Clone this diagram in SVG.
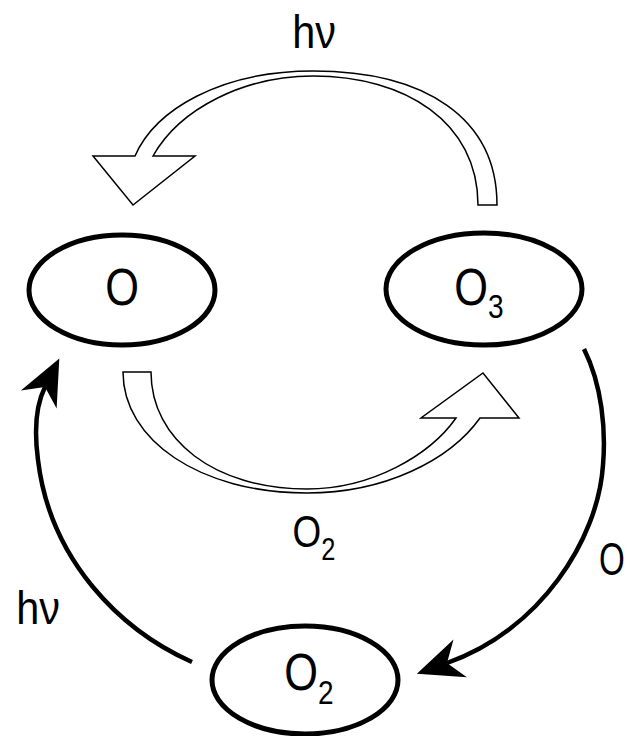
<svg xmlns="http://www.w3.org/2000/svg" width="627" height="736" viewBox="0 0 627 736">
<style>
.node{fill:#fff;stroke:#000;stroke-width:5}
.lbl{font-family:"Liberation Sans",Arial,sans-serif;fill:#000}
.hollow{fill:#fff;stroke:#000;stroke-width:1.5;stroke-linejoin:miter}
.solid{fill:none;stroke:#000;stroke-width:4.5}
</style>
<defs>
<marker id="head" viewBox="-50 -25 55 50" markerWidth="55" markerHeight="50" refX="-32" refY="0" orient="auto" markerUnits="userSpaceOnUse">
<path d="M0,0 L-46,-20 L-32,0 L-46,20 Z" fill="#000"/>
</marker>
</defs>
<rect width="627" height="736" fill="#fff"/>
<g id="connectors">
<path class="hollow" d="M497,205 C497,118 425,71 313,71 C220,71 155,110 135,156 L93,156 L133,205 L195,156 L153,156 C180,108 245,76 313,76 C405,76 478,122 478,205 Z"/>
<path class="hollow" d="M123,372 C123,440 200,493 307,493 C385,493 450,460 480,418 L519,418 L483,373 L421,418 L456,418 C430,455 372,489 307,489 C215,489 151,440 151,372 Z"/>
<path class="solid" marker-end="url(#head)" d="M584,349 C602,385 606,430 603,465 C598,540 540,630 447,663"/>
<path class="solid" marker-end="url(#head)" d="M192,662 C120,630 50,560 38,460 C34,430 36,405 45,387"/>
<text class="lbl" transform="translate(314,48) scale(0.9,1)" font-size="46" text-anchor="middle">hν</text>
<text class="lbl" transform="translate(38,624) scale(0.9,1)" font-size="46" text-anchor="middle">hν</text>
<text class="lbl" transform="translate(314,547) scale(0.82,1)" font-size="45" text-anchor="middle">O<tspan font-size="31" dy="13">2</tspan></text>
<text class="lbl" transform="translate(599,575) scale(0.72,1)" font-size="46">O</text>
</g>
<g id="node-O">
<ellipse class="node" cx="122" cy="290" rx="93" ry="55"/>
<text class="lbl" transform="translate(122,305) scale(0.85,1)" font-size="51" text-anchor="middle">O</text>
</g>
<g id="node-O3">
<ellipse class="node" cx="484" cy="289" rx="98" ry="56"/>
<text class="lbl" transform="translate(479,305) scale(0.85,1)" font-size="51" text-anchor="middle">O<tspan font-size="33" dy="13">3</tspan></text>
</g>
<g id="node-O2">
<ellipse class="node" cx="305" cy="680" rx="93" ry="54"/>
<text class="lbl" transform="translate(309,690) scale(0.85,1)" font-size="51" text-anchor="middle">O<tspan font-size="33" dy="14">2</tspan></text>
</g>
</svg>
